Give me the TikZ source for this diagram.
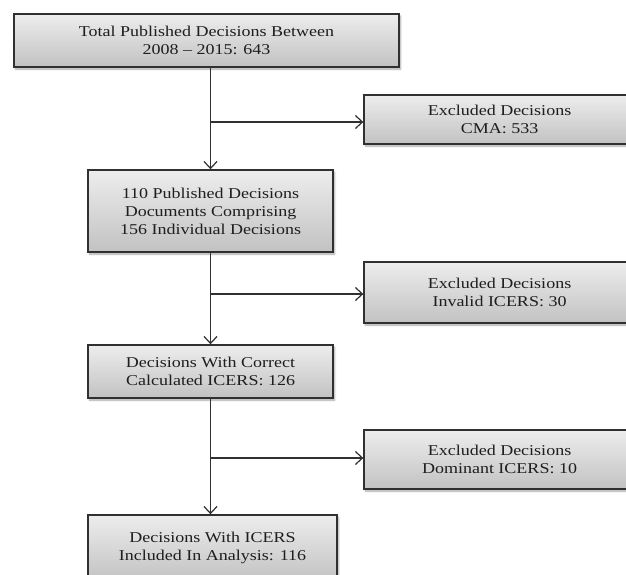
\documentclass[tikz,border=0pt]{standalone}
\usepackage{fontspec}
\setmainfont{Liberation Serif}[FakeStretch=1.2]
\usetikzlibrary{arrows.meta,shadows.blur}
\definecolor{edge}{HTML}{303030}
\definecolor{txt}{HTML}{1E1E1E}
\definecolor{topg}{HTML}{EDEDED}
\definecolor{botg}{HTML}{C2C2C2}
\tikzset{
  stepbox/.style={draw=edge, line width=1.4pt, top color=topg, bottom color=botg,
    align=center, inner sep=0pt, text=txt,
    font=\fontsize{15}{18}\selectfont,
    blur shadow={shadow xshift=1.5pt, shadow yshift=-2pt, shadow blur steps=6, shadow opacity=35}},
  conn/.style={draw=edge, line width=1.2pt},
  arr/.style={conn, -{Straight Barb[length=7pt,width=13pt,line width=1.2pt]}}
}
\begin{document}
\begin{tikzpicture}[x=1pt,y=-1pt]
\useasboundingbox (0,0) rectangle (626,574);
\clip (0,0) rectangle (626,574);
\node[stepbox, minimum width=385pt, minimum height=53pt] (b1) at (206.5,40.5)
  {Total Published Decisions Between\\2008 -- 2015: 643};
\node[stepbox, minimum width=271pt, minimum height=49pt] (c1) at (499.5,119.5)
  {Excluded Decisions\\CMA: 533};
\node[stepbox, minimum width=245pt, minimum height=82pt] (b2) at (210.5,211)
  {110 Published Decisions\\Documents Comprising\\156 Individual Decisions};
\node[stepbox, minimum width=271pt, minimum height=61pt] (c2) at (499.5,292.5)
  {Excluded Decisions\\Invalid ICERS: 30};
\node[stepbox, minimum width=245pt, minimum height=53pt] (b3) at (210.5,371.5)
  {Decisions With Correct\\Calculated ICERS: 126};
\node[stepbox, minimum width=271pt, minimum height=59pt] (c3) at (499.5,459.5)
  {Excluded Decisions\\Dominant ICERS: 10};
\node[stepbox, minimum width=249pt, minimum height=66pt] (b4) at (212.5,548)
  {Decisions With ICERS\\Included In Analysis: 116};
\coordinate (j1) at (210,122);
\coordinate (j2) at (210,294);
\coordinate (j3) at (210,458);
\draw[arr] (b2.north |- b1.south) -- (b2.north);
\draw[arr] (j1) -- (j1 -| c1.west);
\draw[arr] (b2.south) -- (b3.north);
\draw[arr] (j2) -- (j2 -| c2.west);
\draw[arr] (b3.south) -- (b3.south |- b4.north);
\draw[arr] (j3) -- (j3 -| c3.west);
\end{tikzpicture}
\end{document}
